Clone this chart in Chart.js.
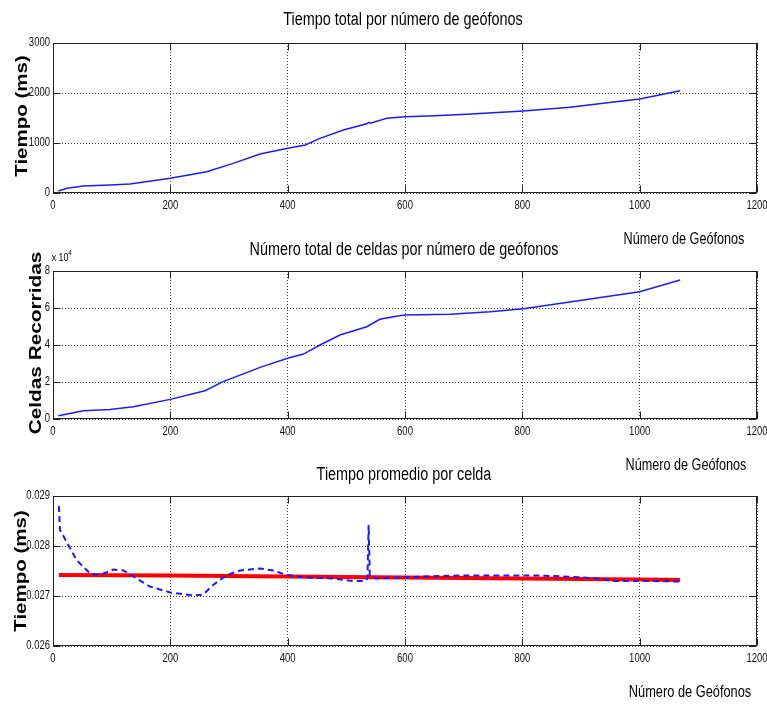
<!DOCTYPE html>
<html><head><meta charset="utf-8">
<script src="https://cdn.jsdelivr.net/npm/chart.js@4"></script>
<style>
html,body{margin:0;padding:0;background:#fff;}
#wrap{position:relative;width:767px;height:707px;overflow:hidden;}
canvas{position:absolute;left:0;top:0;}
</style></head><body>
<div id="wrap">
<canvas id="c1" width="767" height="707"></canvas>
<canvas id="c2" width="767" height="707"></canvas>
<canvas id="c3" width="767" height="707"></canvas>
</div>
<script>
// ---- Data ----
const xTicks = [0, 200, 400, 600, 800, 1000, 1200];

// Plot 1: Tiempo total (ms) vs número de geófonos
const geofonosTiempo = [9, 24, 52, 97, 131, 200, 262, 307, 353, 400, 430, 455, 495, 535, 538, 541, 569, 600, 651, 705, 802, 881, 938, 1000, 1069];
const tiempoTotal    = [40, 94, 140, 160, 180, 293, 427, 593, 780, 893, 960, 1093, 1260, 1385, 1412, 1398, 1493, 1527, 1547, 1573, 1640, 1713, 1793, 1880, 2047];

// Plot 2: Celdas recorridas vs número de geófonos
const geofonosCeldas = [9, 52, 97, 137, 200, 259, 290, 353, 400, 427, 455, 489, 535, 557, 580, 600, 677, 745, 802, 904, 1000, 1069];
const celdas         = [1800, 4500, 5200, 6600, 10600, 15300, 20200, 27900, 32800, 35100, 40000, 45400, 49900, 53900, 55300, 56200, 56600, 58000, 59600, 64300, 68800, 75100];

// Plot 3: Tiempo promedio por celda (ms)
const geofonosPromedio = [10, 12, 23, 40, 63, 80, 103, 120, 137, 165, 200, 239, 256, 273, 296, 319, 353, 375, 398, 432, 478, 512, 532, 536, 538, 540, 550, 631, 700, 830, 887, 932, 955, 1012, 1069];
const tiempoPromedio   = [0.02880, 0.02832, 0.02809, 0.02772, 0.02745, 0.02742, 0.02753, 0.02751, 0.02739, 0.02719, 0.02707, 0.02701, 0.02703, 0.02722, 0.02742, 0.02751, 0.02755, 0.02751, 0.02742, 0.02737, 0.02735, 0.02730, 0.02730, 0.02735, 0.02842, 0.02742, 0.02735, 0.02739, 0.02741, 0.02741, 0.02738, 0.02735, 0.02730, 0.02730, 0.02729];
const geofonosMedia = [10, 200, 400, 600, 800, 1000, 1069];
const tiempoMedia   = [0.02742, 0.02741, 0.02739, 0.02737, 0.02735, 0.02733, 0.02732];

const zip = (xs, ys) => xs.map((x, i) => ({x, y: ys[i]}));

// ---- Layout helpers ----
const W = 767, H = 707;
const X_AXIS_H = 24;
const SANS = '"Liberation Sans", Arial, sans-serif';

function scaledText(ctx, text, x, y, font, sx, rotate, align, color) {
  ctx.save();
  ctx.font = font;
  ctx.fillStyle = color || '#000';
  ctx.textAlign = align || 'center';
  ctx.textBaseline = 'middle';
  ctx.translate(x, y);
  if (rotate) { ctx.rotate(-Math.PI / 2); ctx.scale(1, sx); }
  else ctx.scale(sx, 1);
  ctx.fillText(text, 0, 0);
  ctx.restore();
}

function makeChart(id, opt) {
  const gridCfg = {color: 'rgba(0,0,0,0.75)', drawTicks: false, lineWidth: 1};
  const borderCfg = {display: false, dash: [1, 2]};
  return new Chart(document.getElementById(id), {
    type: 'line',
    data: {datasets: opt.datasets},
    options: {
      responsive: false, animation: false, devicePixelRatio: 1,
      layout: {padding: {left: 0, right: W - 757, top: opt.top, bottom: H - opt.bottom - X_AXIS_H}},
      plugins: {legend: {display: false}, tooltip: {enabled: false}, title: {display: false}},
      elements: {point: {radius: 0}, line: {tension: 0}},
      scales: {
        x: {type: 'linear', min: 0, max: 1200,
            afterBuildTicks(s) { s.ticks = xTicks.map(v => ({value: v})); },
            ticks: {display: false, callback: v => String(v)},
            grid: gridCfg, border: borderCfg,
            afterFit(s) { s.height = X_AXIS_H; }},
        y: {type: 'linear', min: opt.ymin, max: opt.ymax,
            afterBuildTicks(s) { s.ticks = opt.yTicks.map(v => ({value: v})); },
            ticks: {display: false, callback: opt.ytick},
            grid: gridCfg, border: borderCfg,
            afterFit(s) { s.width = 53; }}
      }
    },
    plugins: [{
      id: 'matlabFrame',
      afterDraw(chart) {
        const {ctx, chartArea: a, scales: {x, y}} = chart;
        ctx.save();
        ctx.strokeStyle = '#222';
        ctx.lineWidth = 1;
        const L = Math.round(a.left) + 0.5, R = Math.round(a.right) - 0.5;
        const T = Math.round(a.top) + 0.5, B = Math.round(a.bottom) - 0.5;
        ctx.strokeRect(L, T, R - L, B - T);
        const tl = 7;
        ctx.beginPath();
        x.ticks.forEach(t => {
          const px = Math.round(x.getPixelForValue(t.value)) + 0.5;
          ctx.moveTo(px, B); ctx.lineTo(px, B - tl);
          ctx.moveTo(px, T); ctx.lineTo(px, T + tl);
        });
        y.ticks.forEach(t => {
          const py = Math.round(y.getPixelForValue(t.value)) + 0.5;
          ctx.moveTo(L, py); ctx.lineTo(L + tl, py);
          ctx.moveTo(R, py); ctx.lineTo(R - tl, py);
        });
        ctx.stroke();
        ctx.restore();
        // tick labels from the scales (narrow MATLAB-like look)
        const tf = '12.5px ' + SANS;
        x.ticks.forEach(t => {
          scaledText(ctx, String(t.value), x.getPixelForValue(t.value), a.bottom + 13, tf, 0.76, false, 'center', '#111');
        });
        y.ticks.forEach(t => {
          scaledText(ctx, opt.ytick(t.value), a.left - 3, y.getPixelForValue(t.value), tf, 0.76, false, 'right', '#111');
        });
        opt.texts(ctx);
      }
    }]
  });
}

// ---- Chart 1 ----
makeChart('c1', {
  top: 43, bottom: 193, ymin: 0, ymax: 3000, yTicks: [0, 1000, 2000, 3000],
  ytick: v => String(v),
  datasets: [{data: zip(geofonosTiempo, tiempoTotal), borderColor: '#1a1aff', borderWidth: 1.5, fill: false}],
  texts(ctx) {
    scaledText(ctx, 'Tiempo total por número de geófonos', 403, 20, '18px ' + SANS, 0.8, false);
    scaledText(ctx, 'Número de Geófonos', 684, 240, '16px ' + SANS, 0.79, false);
    scaledText(ctx, 'Tiempo (ms)', 22, 116, 'bold 20.5px ' + SANS, 0.8, true);
  }
});

// ---- Chart 2 ----
makeChart('c2', {
  top: 271, bottom: 419, ymin: 0, ymax: 80000, yTicks: [0, 20000, 40000, 60000, 80000],
  ytick: v => String(Math.round(v / 1e4)),
  datasets: [{data: zip(geofonosCeldas, celdas), borderColor: '#1a1aff', borderWidth: 1.5, fill: false}],
  texts(ctx) {
    scaledText(ctx, 'Número total de celdas por número de geófonos', 404, 250, '18px ' + SANS, 0.8, false);
    scaledText(ctx, 'Número de Geófonos', 686, 466, '16px ' + SANS, 0.79, false);
    scaledText(ctx, 'Celdas Recorridas', 36, 343, 'bold 20.8px ' + SANS, 0.8, true);
    scaledText(ctx, 'x 10', 60, 258, '11px ' + SANS, 0.8, false);
    scaledText(ctx, '4', 70, 253, '8px ' + SANS, 0.8, false);
  }
});

// ---- Chart 3 ----
makeChart('c3', {
  top: 496, bottom: 646, ymin: 0.026, ymax: 0.029, yTicks: [0.026, 0.027, 0.028, 0.029],
  ytick: v => v.toFixed(3),
  datasets: [
    {data: zip(geofonosPromedio, tiempoPromedio), borderColor: '#1a1aff', borderWidth: 2, borderDash: [6, 4], fill: false},
    {data: zip(geofonosMedia, tiempoMedia), borderColor: '#ff0000', borderWidth: 4, fill: false}
  ],
  texts(ctx) {
    scaledText(ctx, 'Tiempo promedio por celda', 404, 475, '18px ' + SANS, 0.8, false);
    scaledText(ctx, 'Número de Geófonos', 690, 693, '16px ' + SANS, 0.8, false);
    scaledText(ctx, 'Tiempo (ms)', 21, 571, 'bold 20.5px ' + SANS, 0.8, true);
  }
});
</script>
</body></html>
